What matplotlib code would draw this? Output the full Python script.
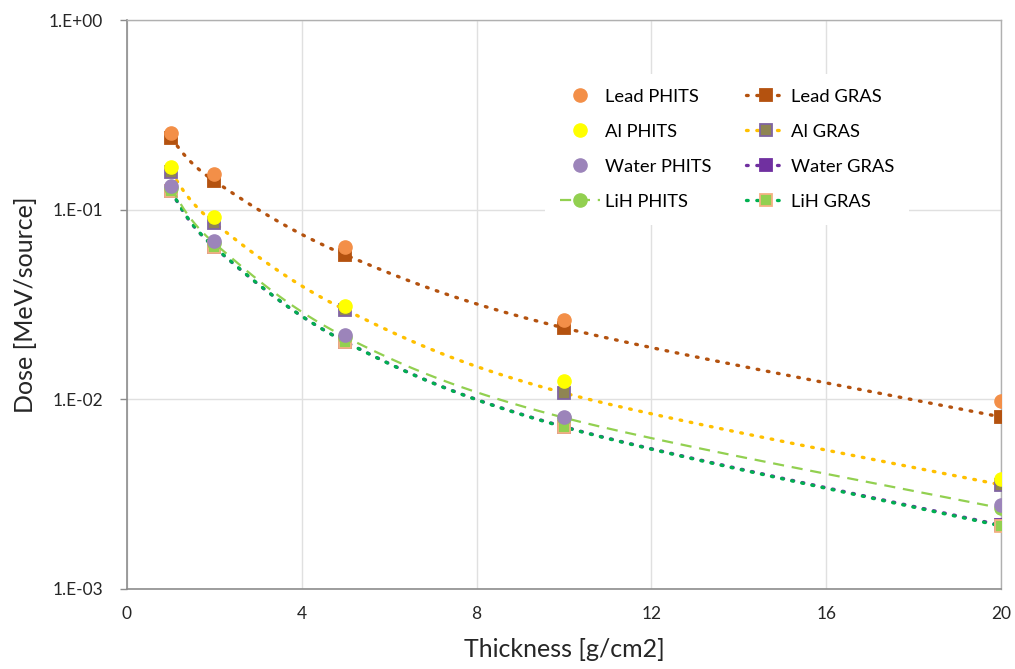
import numpy as np
import matplotlib
matplotlib.use("Agg")
import matplotlib.pyplot as plt
from matplotlib.ticker import FixedLocator, FuncFormatter, NullLocator

plt.rcParams["font.family"] = ["Lato", "DejaVu Sans"]

# =========================
# DATOS
# =========================

thickness = [1, 2, 5, 10, 20]

lead_phits = [0.254, 0.154, 0.0636, 0.0262, 0.0098]
lead_gras = [0.2386, 0.1416, 0.0577, 0.0238, 0.00807]
al_phits = [0.168, 0.0915, 0.0311, 0.0125, 0.0038]
al_gras = [0.158, 0.0851, 0.0296, 0.0108, 0.00354]
water_phits = [0.1333, 0.0684, 0.0218, 0.00807, 0.00277]
water_gras = [0.1248, 0.0633, 0.0201, 0.00717, 0.00217]
lih_phits = [0.130, 0.0665, 0.0213, 0.0080, 0.00267]
lih_gras = [0.1254, 0.0636, 0.02006, 0.00714, 0.00215]


def curva_suave(x, y, n=40):
    """Curva suavizada tipo Excel (Catmull-Rom) en espacio (x, log10 y)."""
    px = np.asarray(x, dtype=float)
    py = np.log10(np.asarray(y, dtype=float))
    xs, ys, idx = [], [], []
    m = len(px)
    for i in range(m - 1):
        i0 = max(i - 1, 0)
        i3 = min(i + 2, m - 1)
        p0 = np.array([px[i], py[i]])
        p3 = np.array([px[i + 1], py[i + 1]])
        c1 = p0 + (p3 - np.array([px[i0], py[i0]])) / 6
        c2 = p3 - (np.array([px[i3], py[i3]]) - p0) / 6
        t = np.linspace(0, 1, n, endpoint=False)[:, None]
        pts = ((1 - t) ** 3) * p0 + 3 * ((1 - t) ** 2) * t * c1 + 3 * (1 - t) * t ** 2 * c2 + t ** 3 * p3
        idx.append(len(xs))
        xs.extend(pts[:, 0])
        ys.extend(pts[:, 1])
    idx.append(len(xs))
    xs.append(px[-1])
    ys.append(py[-1])
    return np.array(xs), 10 ** np.array(ys), idx


dotted = (0, (0.5, 2.6))

fig = plt.figure(figsize=(10.15, 6.69), dpi=100)
ax = fig.add_axes([0.1251, 0.1196, 0.8611, 0.8505])

# GRAS: lineas punteadas + cuadrados
gras_series = [
    ("Lead GRAS", lead_gras, "#B4520F", "#B4520F", "#B4520F", 5),
    ("Al GRAS", al_gras, "#FFC000", "#8F8553", "#8064A2", 5),
    ("Water GRAS", water_gras, "#7030A0", "#7030A0", "#7030A0", 4),
    ("LiH GRAS", lih_gras, "#00B050", "#92D050", "#F4B183", 4.5),
]
gras_handles = []
for label, vals, lc, fc, ec, z in gras_series:
    xs, ys, idx = curva_suave(thickness, vals)
    h, = ax.plot(xs, ys, linestyle=dotted, color=lc, linewidth=2.4,
                 dash_capstyle="round", marker="s", markevery=idx,
                 markersize=8.5, markerfacecolor=fc, markeredgecolor=ec,
                 markeredgewidth=1.3, label=label, zorder=z)
    gras_handles.append(h)

# PHITS: circulos (LiH con linea discontinua)
xs, ys, idx = curva_suave(thickness, lih_phits)
h_lih, = ax.plot(xs, ys, linestyle=(0, (5, 3.5)), color="#92D050", linewidth=1.6,
                 marker="o", markevery=idx, markersize=9.5,
                 markerfacecolor="#92D050", markeredgecolor="#92D050",
                 label="LiH PHITS", zorder=5.5)
h_lead, = ax.plot(thickness, lead_phits, linestyle="none", marker="o", markersize=9.5,
                  color="#F38F48", label="Lead PHITS", zorder=6)
h_al, = ax.plot(thickness, al_phits, linestyle="none", marker="o", markersize=9.5,
                color="#FFFF00", label="Al PHITS", zorder=6)
h_water, = ax.plot(thickness, water_phits, linestyle="none", marker="o", markersize=9.5,
                   color="#9C84BA", label="Water PHITS", zorder=6)

# =========================
# EJES
# =========================

ax.set_yscale("log")
ax.set_ylim(1e-3, 1)
ax.set_xlim(0, 20)
ax.xaxis.set_major_locator(FixedLocator([0, 4, 8, 12, 16, 20]))
ax.yaxis.set_major_locator(FixedLocator([1e-3, 1e-2, 1e-1, 1]))
ax.yaxis.set_minor_locator(NullLocator())
ax.yaxis.set_major_formatter(FuncFormatter(lambda v, p: "1.E%+03d" % int(round(np.log10(v)))))

ax.grid(True, color="#E0E0E0", linewidth=1)
ax.set_axisbelow(True)
for s in ["left", "bottom"]:
    ax.spines[s].set_color("#8C8C8C")
    ax.spines[s].set_linewidth(1.2)
for s in ["top", "right"]:
    ax.spines[s].set_color("#B0B0B0")
    ax.spines[s].set_linewidth(1.0)

ax.tick_params(axis="x", length=0, pad=12, labelsize=12.5, labelcolor="#262626")
ax.tick_params(axis="y", length=5, width=1, color="#8C8C8C", pad=12,
               labelsize=12.5, labelcolor="#262626")

ax.set_xlabel("Thickness [g/cm2]", fontsize=18, color="#262626", labelpad=12)
ax.set_ylabel("Dose [MeV/source]", fontsize=18, color="#262626", labelpad=9)

leg = ax.legend(handles=[h_lead, h_al, h_water, h_lih] + gras_handles,
                ncol=2, loc="upper left", bbox_to_anchor=(545 / 1015, 1 - 74 / 669),
                bbox_transform=fig.transFigure, borderaxespad=0, fontsize=13.2,
                frameon=True, handlelength=2.2, handletextpad=0.25, columnspacing=1.9,
                labelspacing=1.04, borderpad=0.8, fancybox=False)
leg.get_frame().set_facecolor("white")
leg.get_frame().set_edgecolor("none")
leg.get_frame().set_alpha(1)
leg.set_zorder(10)

fig.savefig("out.png", dpi=100)
